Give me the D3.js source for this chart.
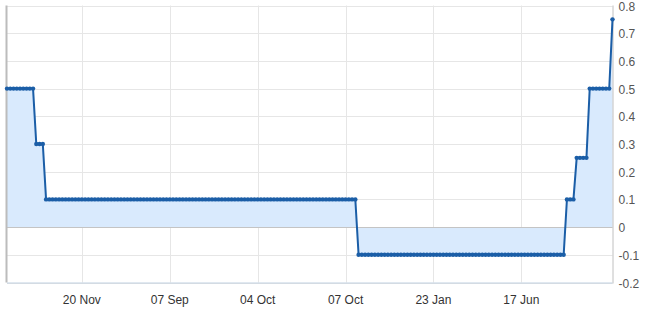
<!DOCTYPE html>
<html>
<head>
<meta charset="utf-8">
<script src="https://cdn.jsdelivr.net/npm/d3@7"></script>
<style>
  body { margin: 0; background: #fff; }
  svg { display: block; font-family: Arial, "Liberation Sans", sans-serif; }
</style>
</head>
<body>
<svg id="chart"></svg>
<script>
// policy rate at each meeting, left to right
var rates = [
  0.5, 0.5, 0.5, 0.5, 0.5, 0.5, 0.5, 0.5, 0.5,
  0.3, 0.3, 0.3,
  0.1, 0.1, 0.1, 0.1, 0.1, 0.1, 0.1, 0.1, 0.1, 0.1, 0.1, 0.1, 0.1, 0.1, 0.1, 0.1,
  0.1, 0.1, 0.1, 0.1, 0.1, 0.1, 0.1, 0.1, 0.1, 0.1, 0.1, 0.1, 0.1, 0.1, 0.1, 0.1,
  0.1, 0.1, 0.1, 0.1, 0.1, 0.1, 0.1, 0.1, 0.1, 0.1, 0.1, 0.1, 0.1, 0.1, 0.1, 0.1,
  0.1, 0.1, 0.1, 0.1, 0.1, 0.1, 0.1, 0.1, 0.1, 0.1, 0.1, 0.1, 0.1, 0.1, 0.1, 0.1,
  0.1, 0.1, 0.1, 0.1, 0.1, 0.1, 0.1, 0.1, 0.1, 0.1, 0.1, 0.1, 0.1, 0.1, 0.1, 0.1,
  0.1, 0.1, 0.1, 0.1, 0.1, 0.1, 0.1, 0.1, 0.1, 0.1, 0.1, 0.1, 0.1, 0.1, 0.1, 0.1,
  -0.1, -0.1, -0.1, -0.1, -0.1, -0.1, -0.1, -0.1, -0.1, -0.1, -0.1, -0.1, -0.1, -0.1, -0.1, -0.1,
  -0.1, -0.1, -0.1, -0.1, -0.1, -0.1, -0.1, -0.1, -0.1, -0.1, -0.1, -0.1, -0.1, -0.1, -0.1, -0.1,
  -0.1, -0.1, -0.1, -0.1, -0.1, -0.1, -0.1, -0.1, -0.1, -0.1, -0.1, -0.1, -0.1, -0.1, -0.1, -0.1,
  -0.1, -0.1, -0.1, -0.1, -0.1, -0.1, -0.1, -0.1, -0.1, -0.1, -0.1, -0.1, -0.1, -0.1, -0.1, -0.1,
  0.1, 0.1, 0.1,
  0.25, 0.25, 0.25, 0.25,
  0.5, 0.5, 0.5, 0.5, 0.5, 0.5, 0.5,
  0.75
];

var tickLabels = ["20 Nov", "07 Sep", "04 Oct", "07 Oct", "23 Jan", "17 Jun"];
var tickIndex = [23, 50, 77, 104, 131, 158];
var yTicks = [0.8, 0.7, 0.6, 0.5, 0.4, 0.3, 0.2, 0.1, 0, -0.1, -0.2];

var W = 650, H = 328;
var plotL = 7, plotR = 612.5, plotT = 5.5, plotB = 282.5;

var svg = d3.select("#chart").attr("width", W).attr("height", H);

var x = d3.scaleLinear().domain([0, rates.length - 1]).range([plotL, plotR]);
var y = d3.scaleLinear().domain([-0.2, 0.8]).range([plotB, plotT]);

// grid
svg.append("g")
  .selectAll("line")
  .data(yTicks)
  .enter().append("line")
    .attr("x1", plotL).attr("x2", plotR)
    .attr("y1", function(d){ return Math.round(y(d)) + 0.5; })
    .attr("y2", function(d){ return Math.round(y(d)) + 0.5; })
    .attr("stroke", "#e6e6e6");

svg.append("g")
  .selectAll("line")
  .data(tickIndex)
  .enter().append("line")
    .attr("x1", function(d){ return Math.round(x(d)) + 0.5; })
    .attr("x2", function(d){ return Math.round(x(d)) + 0.5; })
    .attr("y1", plotT).attr("y2", plotB)
    .attr("stroke", "#e6e6e6");

// area down to zero
var area = d3.area()
  .x(function(d, i){ return x(i); })
  .y0(y(0))
  .y1(function(d){ return y(d); });

svg.append("path")
  .datum(rates)
  .attr("d", area)
  .attr("fill", "#d9eafd");

// zero line
svg.append("line")
  .attr("x1", plotL).attr("x2", plotR)
  .attr("y1", Math.round(y(0)) + 0.5).attr("y2", Math.round(y(0)) + 0.5)
  .attr("stroke", "#c4c4c4");

// axes lines
svg.append("line")
  .attr("x1", plotL - 0.5).attr("x2", plotL - 0.5)
  .attr("y1", plotT).attr("y2", plotB)
  .attr("stroke", "#bcbcbc").attr("stroke-width", 2);
svg.append("line")
  .attr("x1", plotR + 0.5).attr("x2", plotR + 0.5)
  .attr("y1", plotT).attr("y2", plotB + 1)
  .attr("stroke", "#c0c0c0");
svg.append("line")
  .attr("x1", plotL).attr("x2", plotR)
  .attr("y1", plotB + 0.5).attr("y2", plotB + 0.5)
  .attr("stroke", "#c0d0e0");

// series
var line = d3.line()
  .x(function(d, i){ return x(i); })
  .y(function(d){ return y(d); });

svg.append("path")
  .datum(rates)
  .attr("d", line)
  .attr("fill", "none")
  .attr("stroke", "#1b5ea7")
  .attr("stroke-width", 2);

svg.append("g")
  .selectAll("circle")
  .data(rates)
  .enter().append("circle")
    .attr("cx", function(d, i){ return x(i); })
    .attr("cy", function(d){ return y(d); })
    .attr("r", 2.2)
    .attr("fill", "#1b5ea7");

// right axis labels
svg.append("g")
  .selectAll("text")
  .data(yTicks)
  .enter().append("text")
    .attr("x", plotR + 6)
    .attr("y", function(d){ return y(d) + 5; })
    .attr("font-size", 12)
    .attr("fill", "#555")
    .text(function(d){ return d; });

// bottom labels
svg.append("g")
  .selectAll("text")
  .data(tickIndex)
  .enter().append("text")
    .attr("x", function(d){ return x(d); })
    .attr("y", 304)
    .attr("text-anchor", "middle")
    .attr("font-size", 12)
    .attr("fill", "#333")
    .text(function(d, i){ return tickLabels[i]; });
</script>
</body>
</html>
